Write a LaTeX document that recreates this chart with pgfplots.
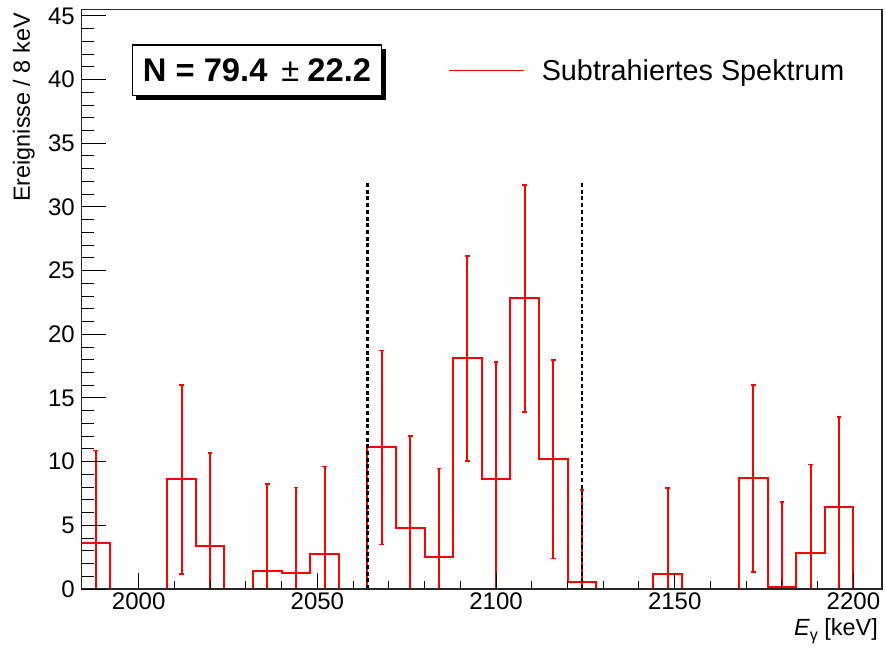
\documentclass[border=0pt]{standalone}
\usepackage{pgfplots}
\pgfplotsset{compat=1.18}
\usepackage{fontspec}
\setmainfont{Liberation Sans}
\usetikzlibrary{shadows}
\begin{document}
\begin{tikzpicture}
\pgfplotsset{
  common/.style={
    scale only axis, width=800.5pt, height=579.5pt,
    at={(0pt,0pt)}, anchor=south west,
    xmin=1984, xmax=2208, ymin=0, ymax=45.5,
    tick pos=left, tick align=inside,
    axis line style={line width=1.2pt, black!85},
    every tick/.style={black, line width=1pt},
    tick label style={font=\fontsize{24}{28}\selectfont},
    /pgf/number format/assume math mode=true,
    /pgf/number format/1000 sep={},
  }
}
\begin{axis}[common, axis on top,
  xtick={2000,2050,...,2200}, minor x tick num=4,
  ytick={0,5,...,45}, minor y tick num=4,
  major tick length=16.5pt, minor tick length=8.3pt,
  ytick style={draw=none},
  xticklabel style={anchor=north, inner sep=0pt, yshift=-4pt},
  yticklabel style={anchor=east, inner sep=0pt, xshift=-6.5pt},
  ylabel={Ereignisse / 8 keV},
  every axis y label/.style={at={(rel axis cs:-0.0721,0.994)}, rotate=90, anchor=east, inner sep=0pt, font=\fontsize{23.4}{26}\selectfont},
  xlabel={\textit{E}\raisebox{-5pt}{\fontsize{16}{18}\selectfont γ} [keV]},
  every axis x label/.style={at={(rel axis cs:1,0)}, anchor=base east, inner sep=0pt, xshift=-4pt, yshift=-46pt, font=\fontsize{23.4}{26}\selectfont},
  legend style={draw=none, fill=none, at={(rel axis cs:0.4578,0.8944)}, anchor=west, inner sep=0pt, column sep=17pt, font=\fontsize{28.8}{32}\selectfont, nodes={inner sep=0pt}},
  legend cell align=left,
]
% step histogram (left bin edges, value)
\addplot[red, line width=2pt, const plot mark left, no markers,
  legend image code/.code={\draw[red, line width=1.6pt] (0pt,0pt) -- (75pt,0pt);}]
coordinates {
(1984,3.58) (1992,0) (2000,0) (2008,8.61) (2016,3.37) (2024,0) (2032,1.39)
(2040,1.28) (2048,2.72) (2056,0) (2064,11.12) (2072,4.76) (2080,2.51)
(2088,18.10) (2096,8.61) (2104,22.82) (2112,10.20) (2120,0.52) (2128,0)
(2136,0) (2144,1.18) (2152,0) (2160,0) (2168,8.69) (2176,0.16) (2184,2.85)
(2192,6.46) (2200,0) (2208,0)
};
\addlegendentry{Subtrahiertes Spektrum}
% error bars at bin centres
\addplot[draw=none, no markers, forget plot,
  error bars/.cd, y dir=both, y explicit,
  error bar style={draw=red, solid, line width=2pt},
  error mark=-,
  error mark options={rotate=90, draw=red, solid, line width=1.6pt, mark size=2.3pt}]
coordinates {
(1988,3.58) +- (0,7.28)
(2012,8.61) +- (0,7.42)
(2020,3.37) +- (0,7.33)
(2036,1.39) +- (0,6.85)
(2044,1.28) +- (0,6.70)
(2052,2.72) +- (0,6.91)
(2068,11.12) +- (0,7.62)
(2076,4.76) +- (0,7.24)
(2084,2.51) +- (0,6.96)
(2092,18.10) +- (0,8.06)
(2100,8.61) +- (0,9.21)
(2108,22.82) +- (0,8.90)
(2116,10.20) +- (0,7.80)
(2124,0.52) +- (0,7.25)
(2148,1.18) +- (0,6.77)
(2172,8.69) +- (0,7.35)
(2180,0.16) +- (0,6.69)
(2188,2.85) +- (0,6.91)
(2196,6.46) +- (0,7.04)
};
% signal window
\addplot[black, line width=2.6pt, dash pattern=on 4pt off 2.7pt, forget plot] coordinates {(2064,0) (2064,32)};
\addplot[black, line width=2.6pt, dash pattern=on 4pt off 2.7pt, forget plot] coordinates {(2124,0) (2124,32)};
\end{axis}
\begin{axis}[common,
  xtick=\empty,
  ytick={0,5,...,45}, minor y tick num=4, yticklabels={},
  major tick length=24.5pt, minor tick length=12.5pt,
  axis line style={draw=none},
]
\end{axis}
\node[draw=black, line width=1.3pt, fill=white, minimum width=249.4pt, minimum height=50.7pt, inner sep=0pt,
  drop shadow={shadow xshift=4pt, shadow yshift=-4.3pt, fill=black, opacity=1},
  font=\fontsize{32.7}{36}\selectfont\bfseries]
  at (175.5pt,518.7pt) {N = 79.4\hspace{14pt}{\mdseries ±}\hspace{8pt}22.2};
\pgfresetboundingbox
\path[use as bounding box] (-81.5pt,-60pt) rectangle (804.5pt,589pt);
\end{tikzpicture}
\end{document}
